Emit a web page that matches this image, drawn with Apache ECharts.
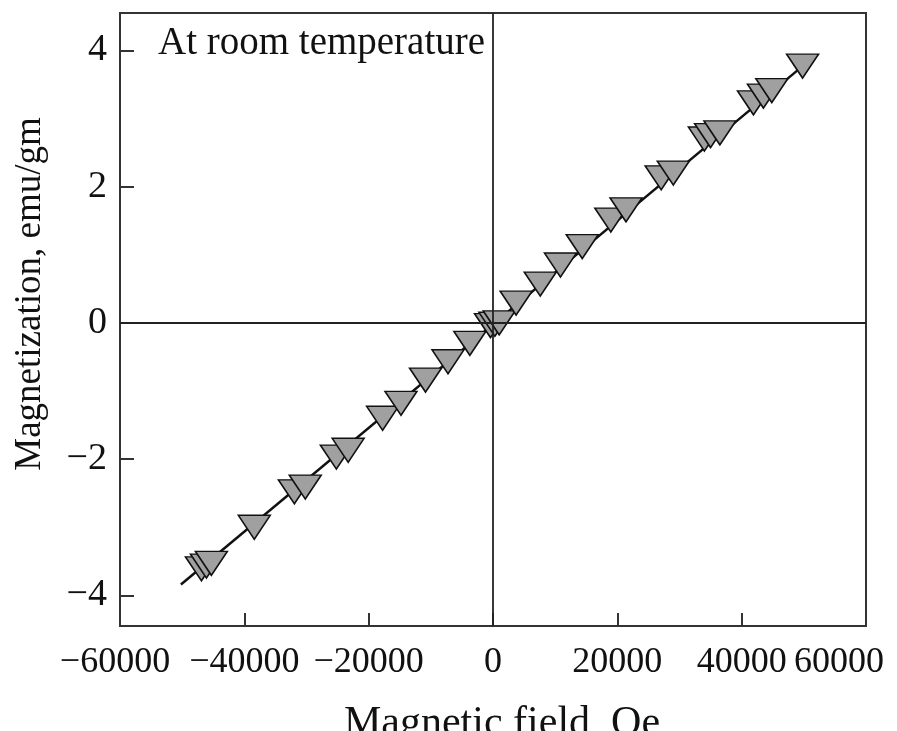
<!DOCTYPE html>
<html>
<head>
<meta charset="utf-8">
<title>Magnetization vs magnetic field</title>
<script src="https://cdn.jsdelivr.net/npm/echarts@6.0.0/dist/echarts.min.js"></script>
<style>
  html, body { margin: 0; padding: 0; background: #ffffff; }
  #chart { width: 897px; height: 731px; }
</style>
</head>
<body>
<div id="chart"></div>
<script>
// Measured points: applied field (Oe) and magnetization (emu/gm)
const fieldOe = [
  -46900, -46100, -45300, -38400, -31950, -30200, -25200, -23300,
  -17760, -14800, -10850, -7240, -3720, -400, 300, 1000,
  3720, 7600, 10850, 14360, 18950, 21400, 27050, 29000,
  34000, 35000, 36500, 41900, 43500, 44850, 49800
];
const magnetization = [
  -3.61, -3.57, -3.53, -3.00, -2.48, -2.41, -1.97, -1.87,
  -1.40, -1.18, -0.84, -0.57, -0.30, -0.04, -0.02, 0.00,
  0.29, 0.57, 0.85, 1.12, 1.51, 1.66, 2.13, 2.20,
  2.70, 2.75, 2.79, 3.23, 3.33, 3.41, 3.77
];

// Linear fit through the measurements (end points)
const fitField = [-50200, 49800];
const fitMag = [-3.84, 3.77];

// Axis ticks
const fieldTicks = [-60000, -40000, -20000, 0, 20000, 40000, 60000];
const magTicks = [-4, -2, 0, 2, 4];

const SERIF = '"Liberation Serif", "DejaVu Serif", serif';
const INK = '#111111';
const minus = v => String(v).replace('-', '\u2212');

const points = fieldOe.map((x, i) => [x, magnetization[i]]);
const fitLine = fitField.map((x, i) => [x, fitMag[i]]);

const labelFont = { fontFamily: SERIF, fontSize: 36, color: INK };

const chart = echarts.init(document.getElementById('chart'), null, { renderer: 'canvas' });

chart.setOption({
  backgroundColor: '#ffffff',
  animation: false,
  grid: {
    left: 120, right: 31, top: 13, bottom: 105,
    show: true, borderColor: '#333', borderWidth: 2,
    backgroundColor: 'transparent'
  },
  xAxis: {
    type: 'value',
    min: fieldTicks[0],
    max: fieldTicks[fieldTicks.length - 1],
    interval: 20000,
    axisLine: { show: true, onZero: false, lineStyle: { color: '#333', width: 2 } },
    axisTick: {
      show: true, inside: true, length: 13,
      customValues: fieldTicks,
      lineStyle: { color: '#333', width: 2 }
    },
    splitLine: { show: false },
    axisLabel: {
      customValues: fieldTicks,
      margin: 19,
      showMinLabel: true,
      showMaxLabel: true,
      hideOverlap: false,
      fontFamily: SERIF, fontSize: 36, color: INK,
      formatter: v => {
        if (v === fieldTicks[0]) return '{lo|' + minus(v) + '}';
        if (v === fieldTicks[fieldTicks.length - 1]) return '{hi|' + minus(v) + '}';
        return minus(v);
      },
      rich: {
        lo: Object.assign({ padding: [0, 10, 0, 0] }, labelFont),
        hi: Object.assign({ padding: [0, 54, 0, 0] }, labelFont)
      }
    }
  },
  yAxis: {
    type: 'value',
    min: -4.45,
    max: 4.55,
    axisLine: { show: true, onZero: false, lineStyle: { color: '#333', width: 2 } },
    axisTick: {
      show: true, inside: true, length: 14,
      customValues: magTicks,
      lineStyle: { color: '#333', width: 2 }
    },
    splitLine: { show: false },
    axisLabel: {
      customValues: magTicks,
      margin: 13,
      fontFamily: SERIF, fontSize: 38, color: INK,
      formatter: v => minus(v)
    }
  },
  graphic: [
    {
      type: 'text',
      left: 158, top: 24,
      style: { text: 'At room temperature', fontFamily: SERIF, fontSize: 39, fill: INK }
    },
    {
      type: 'text',
      x: 502, y: 724,
      style: {
        text: 'Magnetic field, Oe', fontFamily: SERIF, fontSize: 42, fill: INK,
        align: 'center', verticalAlign: 'middle'
      }
    },
    {
      type: 'text',
      x: 30, y: 294,
      rotation: Math.PI / 2,
      style: {
        text: 'Magnetization, emu/gm', fontFamily: SERIF, fontSize: 37, fill: INK,
        align: 'center', verticalAlign: 'middle'
      }
    }
  ],
  series: [
    {
      name: 'fit',
      type: 'line',
      data: fitLine,
      showSymbol: false,
      symbol: 'none',
      lineStyle: { color: '#111', width: 2.5 },
      z: 2,
      markLine: {
        silent: true,
        symbol: ['none', 'none'],
        label: { show: false },
        lineStyle: { color: '#222', width: 1.8, type: 'solid' },
        data: [{ xAxis: 0 }, { yAxis: 0 }]
      }
    },
    {
      name: 'M(H)',
      type: 'scatter',
      data: points,
      symbol: 'triangle',
      symbolRotate: 180,
      symbolSize: [32, 24],
      itemStyle: { color: '#a0a0a0', borderColor: '#111', borderWidth: 1.5, opacity: 1 },
      z: 3
    }
  ]
});
</script>
</body>
</html>
